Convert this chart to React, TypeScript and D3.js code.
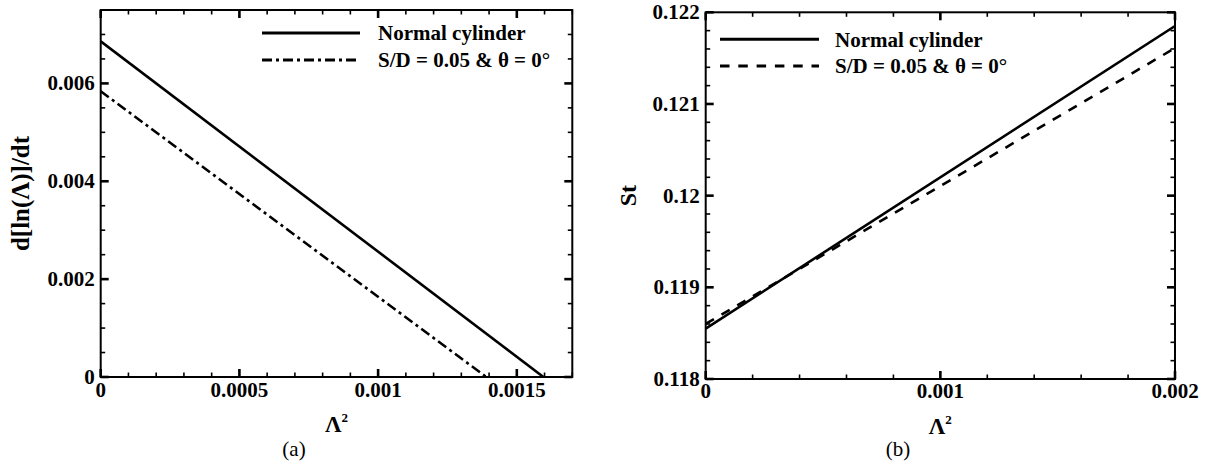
import React from "react";
import * as d3 from "d3";

// Panel (a): growth rate versus Λ²
const lambdaSqNormalA = [0, 0.001596];
const growthNormal = [0.00686, 0];
const lambdaSqSlotA = [0, 0.00139];
const growthSlot = [0.00584, 0];
const xTicksA = [0, 0.0005, 0.001, 0.0015];
const xTickLabelsA = ["0", "0.0005", "0.001", "0.0015"];
const yTicksA = [0, 0.002, 0.004, 0.006];
const yTickLabelsA = ["0", "0.002", "0.004", "0.006"];

// Panel (b): Strouhal number versus Λ²
const lambdaSqB = [0, 0.002];
const stNormal = [0.11855, 0.12185];
const stSlot = [0.1186, 0.12161];
const xTicksB = [0, 0.001, 0.002];
const xTickLabelsB = ["0", "0.001", "0.002"];
const yTicksB = [0.118, 0.119, 0.12, 0.121, 0.122];
const yTickLabelsB = ["0.118", "0.119", "0.12", "0.121", "0.122"];

const seriesNames = ["Normal cylinder", "S/D = 0.05 & θ = 0°"];

const FONT = "'Liberation Serif', 'Times New Roman', serif";

type Series = { xs: number[]; ys: number[]; dash?: string };

type PanelProps = {
  x0: number;
  x1: number;
  y0: number;
  y1: number;
  xDomain: [number, number];
  yDomain: [number, number];
  xTicks: number[];
  xTickLabels: string[];
  yTicks: number[];
  yTickLabels: string[];
  xMinorStep: number;
  yMinorStep: number;
  series: Series[];
  legendLineX: [number, number];
  legendY: [number, number];
  legendTextX: number;
  legendBaseline: [number, number];
  yTitle: React.ReactNode;
  yTitleX: number;
  yTitleSize: number;
  caption: string;
  captionX: number;
  xLabelOffset: number;
};

function range(a: number, b: number, step: number): number[] {
  const out: number[] = [];
  const n = Math.round((b - a) / step);
  for (let i = 0; i <= n; i++) out.push(a + i * step);
  return out;
}

function Panel(p: PanelProps) {
  const x = d3.scaleLinear().domain(p.xDomain).range([p.x0, p.x1]);
  const y = d3.scaleLinear().domain(p.yDomain).range([p.y0, p.y1]);
  const line = d3
    .line<[number, number]>()
    .x((d) => x(d[0]))
    .y((d) => y(d[1]));

  const majorLen = 8;
  const minorLen = 4.5;
  const isMajor = (v: number, majors: number[]) =>
    majors.some((m) => Math.abs(m - v) < 1e-9);

  const xMinor = range(p.xDomain[0], p.xDomain[1], p.xMinorStep).filter(
    (v) => !isMajor(v, p.xTicks)
  );
  const yMinor = range(p.yDomain[0], p.yDomain[1], p.yMinorStep).filter(
    (v) => !isMajor(v, p.yTicks)
  );

  const tickStroke = { stroke: "#000", strokeWidth: 1.6 };
  const majorStroke = { stroke: "#000", strokeWidth: 2.6 };

  const cx = (p.x0 + p.x1) / 2;
  const cy = (p.y0 + p.y1) / 2;

  return (
    <g>
      {/* lines */}
      <defs>
        <clipPath id={`clip-${p.x0}`}>
          <rect x={p.x0} y={p.y1} width={p.x1 - p.x0} height={p.y0 - p.y1} />
        </clipPath>
      </defs>
      <g clipPath={`url(#clip-${p.x0})`}>
        {p.series.map((s, i) => (
          <path
            key={i}
            d={line(s.xs.map((v, k) => [v, s.ys[k]]) as [number, number][]) || ""}
            fill="none"
            stroke="#000"
            strokeWidth={2.6}
            strokeDasharray={s.dash}
          />
        ))}
      </g>

      {/* ticks, mirrored on all four sides and pointing inward */}
      {xMinor.map((v) => (
        <g key={`xm${v}`}>
          <line x1={x(v)} x2={x(v)} y1={p.y0} y2={p.y0 - minorLen} {...tickStroke} />
          <line x1={x(v)} x2={x(v)} y1={p.y1} y2={p.y1 + minorLen} {...tickStroke} />
        </g>
      ))}
      {p.xTicks.map((v) => (
        <g key={`xM${v}`}>
          <line x1={x(v)} x2={x(v)} y1={p.y0} y2={p.y0 - majorLen} {...majorStroke} />
          <line x1={x(v)} x2={x(v)} y1={p.y1} y2={p.y1 + majorLen} {...majorStroke} />
        </g>
      ))}
      {yMinor.map((v) => (
        <g key={`ym${v}`}>
          <line x1={p.x0} x2={p.x0 + minorLen} y1={y(v)} y2={y(v)} {...tickStroke} />
          <line x1={p.x1} x2={p.x1 - minorLen} y1={y(v)} y2={y(v)} {...tickStroke} />
        </g>
      ))}
      {p.yTicks.map((v) => (
        <g key={`yM${v}`}>
          <line x1={p.x0} x2={p.x0 + majorLen} y1={y(v)} y2={y(v)} {...majorStroke} />
          <line x1={p.x1} x2={p.x1 - majorLen} y1={y(v)} y2={y(v)} {...majorStroke} />
        </g>
      ))}

      {/* frame */}
      <rect
        x={p.x0}
        y={p.y1}
        width={p.x1 - p.x0}
        height={p.y0 - p.y1}
        fill="none"
        stroke="#000"
        strokeWidth={2}
      />

      {/* tick labels */}
      <g fontFamily={FONT} fontWeight="bold" fontSize={21} fill="#000">
        {p.xTicks.map((v, i) => (
          <text key={`xl${v}`} x={x(v)} y={p.y0 + p.xLabelOffset} textAnchor="middle">
            {p.xTickLabels[i]}
          </text>
        ))}
        {p.yTicks.map((v, i) => (
          <text key={`yl${v}`} x={p.x0 - 6} y={y(v) + 7} textAnchor="end">
            {p.yTickLabels[i]}
          </text>
        ))}
      </g>

      {/* legend */}
      <line
        x1={p.legendLineX[0]}
        x2={p.legendLineX[1]}
        y1={p.legendY[0]}
        y2={p.legendY[0]}
        stroke="#000"
        strokeWidth={3}
      />
      <line
        x1={p.legendLineX[0]}
        x2={p.legendLineX[1]}
        y1={p.legendY[1]}
        y2={p.legendY[1]}
        stroke="#000"
        strokeWidth={3}
        strokeDasharray={p.series[1].dash}
      />
      <g fontFamily={FONT} fontWeight="bold" fontSize={21} fill="#000">
        <text x={p.legendTextX} y={p.legendBaseline[0]}>
          {seriesNames[0]}
        </text>
        <text x={p.legendTextX} y={p.legendBaseline[1]}>
          {seriesNames[1]}
        </text>
      </g>

      {/* axis titles */}
      <text
        x={cx}
        y={p.y0 + 55}
        textAnchor="middle"
        fontFamily={FONT}
        fontWeight="bold"
        fontSize={23}
      >
        Λ
        <tspan fontSize={13} dy={-10}>
          2
        </tspan>
      </text>
      <text
        transform={`translate(${p.yTitleX},${cy}) rotate(-90)`}
        textAnchor="middle"
        fontFamily={FONT}
        fontWeight="bold"
        fontSize={p.yTitleSize}
      >
        {p.yTitle}
      </text>
      <text
        x={p.captionX}
        y={456}
        textAnchor="middle"
        fontFamily={FONT}
        fontSize={21}
      >
        {p.caption}
      </text>
    </g>
  );
}

export default function App() {
  return (
    <svg
      width={1208}
      height={467}
      style={{ position: "absolute", left: 0, top: 0, background: "#fff" }}
    >
      <rect width={1208} height={467} fill="#fff" />
      <Panel
        x0={100.7}
        x1={572.3}
        y0={377}
        y1={10}
        xDomain={[0, 0.0017]}
        yDomain={[0, 0.0075]}
        xTicks={xTicksA}
        xTickLabels={xTickLabelsA}
        yTicks={yTicksA}
        yTickLabels={yTickLabelsA}
        xMinorStep={0.0001}
        yMinorStep={0.0005}
        series={[
          { xs: lambdaSqNormalA, ys: growthNormal },
          { xs: lambdaSqSlotA, ys: growthSlot, dash: "10,4,3,4" },
        ]}
        legendLineX={[262, 360]}
        legendY={[33, 60]}
        legendTextX={378}
        legendBaseline={[40, 67]}
        yTitle="d[ln(Λ)]/dt"
        yTitleX={29}
        yTitleSize={25}
        caption="(a)"
        captionX={294}
        xLabelOffset={20}
      />
      <Panel
        x0={705.7}
        x1={1175}
        y0={379}
        y1={12.3}
        xDomain={[0, 0.002]}
        yDomain={[0.118, 0.122]}
        xTicks={xTicksB}
        xTickLabels={xTickLabelsB}
        yTicks={yTicksB}
        yTickLabels={yTickLabelsB}
        xMinorStep={0.0002}
        yMinorStep={0.0002}
        series={[
          { xs: lambdaSqB, ys: stNormal },
          { xs: lambdaSqB, ys: stSlot, dash: "9.5,8.8" },
        ]}
        legendLineX={[720, 819]}
        legendY={[39.3, 66]}
        legendTextX={835}
        legendBaseline={[47, 73]}
        yTitle="St"
        yTitleX={636}
        yTitleSize={24}
        caption="(b)"
        captionX={898}
        xLabelOffset={19}
      />
    </svg>
  );
}
